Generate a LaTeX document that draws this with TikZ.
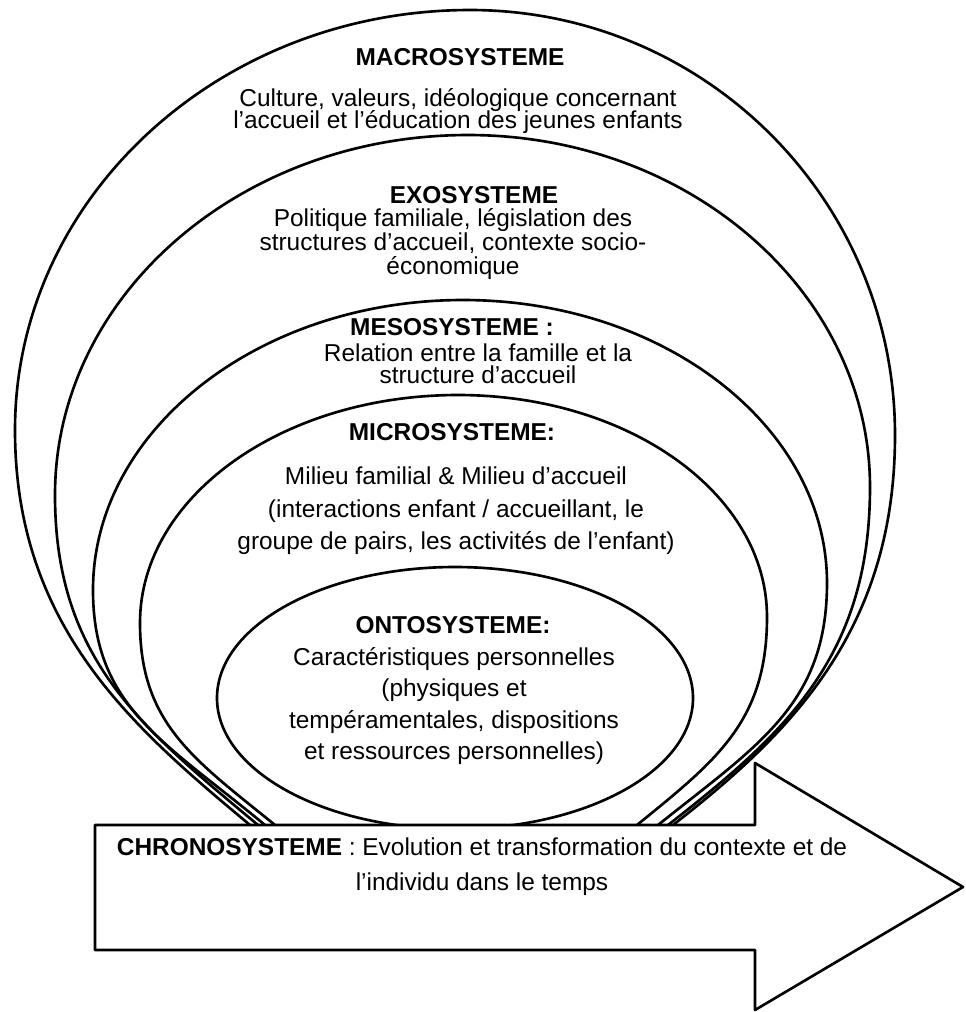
\documentclass[tikz,border=0pt]{standalone}
\usepackage{fontspec}
\setmainfont{Liberation Sans}
\usepackage{xcolor}

\begin{document}
\lineskiplimit=-20pt
\begin{tikzpicture}[
    x=0.02cm, y=-0.02cm,
    sysline/.style={draw, line width=1.5pt, line join=round},
    systitle/.style={font=\fontsize{13.9pt}{16pt}\selectfont\bfseries, inner sep=0pt},
    systext/.style={align=center, inner sep=0pt, font=\fontsize{13.9pt}{#1}\selectfont}
]
\useasboundingbox (0,0) rectangle (965,1012);

% Systems (outer to inner)
\draw[sysline] (250,825) .. controls (135,729) and (15,628) .. (15,430)
    .. controls (15,198) and (219,10) .. (470,10)
    .. controls (705,10) and (895,200) .. (895,435)
    .. controls (895,630) and (791,733) .. (673,825);
\draw[sysline] (258,825) .. controls (143,729) and (55,660) .. (55,495)
    .. controls (55,296) and (240,135) .. (468,135)
    .. controls (690,135) and (870,293) .. (870,487)
    .. controls (870,656) and (786,733) .. (668,825);
\draw[sysline] (265,825) .. controls (165,742) and (93,707) .. (93,590)
    .. controls (93,430) and (259,300) .. (463,300)
    .. controls (664,300) and (827,427) .. (827,583)
    .. controls (827,704) and (758,745) .. (658,825);
\draw[sysline] (275,825) .. controls (195,760) and (140,724) .. (140,623)
    .. controls (140,497) and (282,395) .. (458,395)
    .. controls (629,395) and (767,494) .. (767,617)
    .. controls (767,721) and (717,760) .. (637,825);
\draw[sysline] (455,698) ellipse [x radius=238, y radius=131];

% Chronosystem arrow
\draw[sysline, fill=white] (95,825) -- (755,825) -- (755,763) -- (963,887)
    -- (755,1010) -- (755,950) -- (95,950) -- cycle;

% Labels
\node[systitle] (macrotitle) at (460,57) {MACROSYSTEME};
\node[systext=12.6pt] (macrotext) at (458,111) {Culture, valeurs, idéologique concernant\\l'accueil et l'éducation des jeunes enfants};
\node[systitle] (exotitle) at (474,195) {EXOSYSTEME};
\node[systext=13.7pt] (exotext) at (453,244) {Politique familiale, législation des\\structures d'accueil, contexte socio-\\économique};
\node[systitle] (mesotitle) at (452,327) {MESOSYSTEME :};
\node[systext=12.6pt] (mesotext) at (478,364) {Relation entre la famille et la\\structure d'accueil};
\node[systitle] (microtitle) at (452,432) {MICROSYSTEME:};
\node[systext=18.5pt] (microtext) at (456,511) {Milieu familial \& Milieu d'accueil\\(interactions enfant / accueillant, le\\groupe de pairs, les activités de l'enfant)};
\node[systitle] (ontotitle) at (453,625) {ONTOSYSTEME:};
\node[systext=18pt] (ontotext) at (454,706) {Caractéristiques personnelles\\(physiques et\\tempéramentales, dispositions\\et ressources personnelles)};
\node[systext=19.9pt] (chronotext) at (482,867) {\textbf{CHRONOSYSTEME} : Evolution et transformation du contexte et de\\l'individu dans le temps};

\end{tikzpicture}
\end{document}
